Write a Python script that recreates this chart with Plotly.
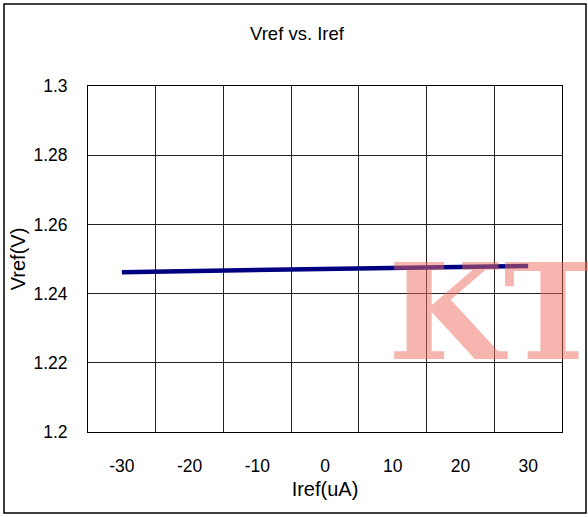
import plotly.graph_objects as go

iref = [-30, -20, -10, 0, 10, 20, 30]
vref = [1.2462, 1.2465, 1.2468, 1.2471, 1.2474, 1.2477, 1.2480]
x_ticks = [-30, -20, -10, 0, 10, 20, 30]
x_labels = ["-30", "-20", "-10", "0", "10", "20", "30"]
x_grid = [-35, -25, -15, -5, 5, 15, 25, 35]
y_ticks = [1.2, 1.22, 1.24, 1.26, 1.28, 1.3]
y_labels = ["1.2", "1.22", "1.24", "1.26", "1.28", "1.3"]

W, H = 588, 517
ml, mr, mt, mb = 88, 26, 86, 85
pw, ph = W - ml - mr, H - mt - mb

fig = go.Figure()
fig.add_trace(go.Scatter(x=iref, y=vref, mode="lines",
                         line=dict(color="#000080", width=4.5), showlegend=False))

font = "Liberation Sans, Arial, sans-serif"
fig.update_layout(
    width=W, height=H,
    margin=dict(l=ml, r=mr, t=mt, b=mb),
    paper_bgcolor="white", plot_bgcolor="white",
    title=dict(text="Vref vs. Iref", x=297 / W, xanchor="center",
               y=1 - 34 / H, yanchor="middle",
               font=dict(family=font, size=18.5, color="black")),
    xaxis=dict(range=[-35, 35], tickvals=x_ticks, ticktext=x_labels, showgrid=False,
               ticks="", ticklabelstandoff=18,
               tickfont=dict(family=font, size=17.5, color="black"),
               title=dict(text="Iref(uA)", standoff=6,
                          font=dict(family=font, size=20, color="black")),
               showline=True, linecolor="black", linewidth=1, mirror=True,
               zeroline=False,
               minor=dict(tickvals=x_grid, showgrid=True, gridcolor="#222",
                          gridwidth=1, ticks="")),
    yaxis=dict(range=[1.2, 1.3], tickvals=y_ticks, ticktext=y_labels,
               showgrid=True, gridcolor="#222", gridwidth=1,
               ticks="", ticklabelstandoff=16,
               tickfont=dict(family=font, size=17.5, color="black"),
               title=dict(text="Vref(V)", standoff=2,
                          font=dict(family=font, size=20, color="black")),
               showline=True, linecolor="black", linewidth=1, mirror=True,
               zeroline=False),
)

# outer border
fig.add_shape(type="rect", xref="paper", yref="paper",
              x0=(4 - ml) / pw, x1=(586 - ml) / pw,
              y0=-(513 - mt - ph) / ph, y1=1 + (mt - 4) / ph,
              line=dict(color="black", width=1.5), fillcolor="rgba(0,0,0,0)",
              layer="below")

# watermark
fig.add_annotation(text="<b>KT</b>", xref="paper", yref="paper",
                   x=(386 - ml) / pw, xanchor="left",
                   y=1 - (312 - mt) / ph, yanchor="middle",
                   showarrow=False,
                   font=dict(family="DejaVu Serif", size=133,
                             color="rgba(238,110,95,0.5)"))

fig.write_html("out.html")
